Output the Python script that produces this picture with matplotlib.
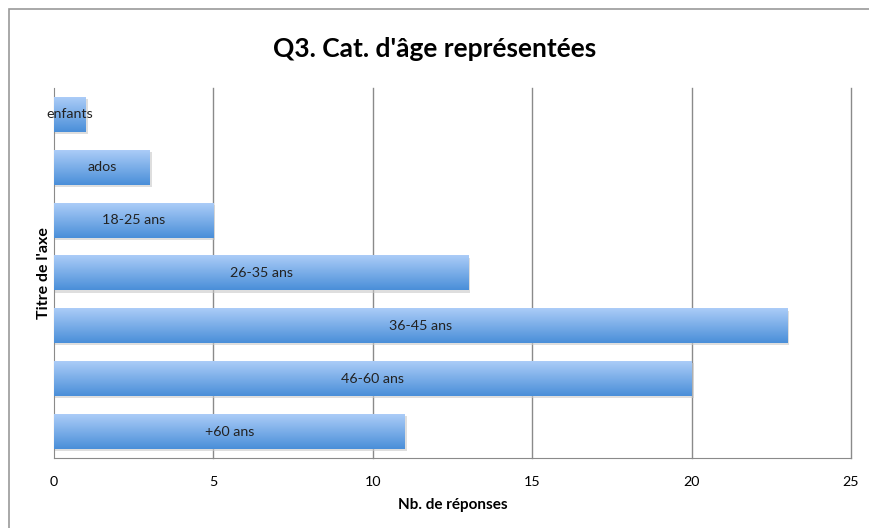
import numpy as np
import matplotlib
matplotlib.use('Agg')
import matplotlib.pyplot as plt
from matplotlib.patches import Rectangle

# ── data ──
categories = ['enfants', 'ados', '18-25 ans', '26-35 ans', '36-45 ans', '46-60 ans', '+60 ans']
responses = [1, 3, 5, 13, 23, 20, 11]
x_ticks = [0, 5, 10, 15, 20, 25]

plt.rcParams['font.family'] = ['Lato', 'DejaVu Sans']

fig = plt.figure(figsize=(8.69, 5.28), dpi=100)
ax = fig.add_axes([0.0621, 0.1326, 0.9172, 0.7007])

# outer chart frame (cut off on right / bottom)
fig.patches.append(Rectangle((9 / 869, -0.1), 1.2, 1 - 9 / 528 + 0.1,
                             transform=fig.transFigure, fill=False,
                             edgecolor='#9a9a9a', linewidth=1.2))

# vertical gradient used for each bar (light top -> darker bottom)
top_c = np.array([0.67, 0.80, 0.97])
bot_c = np.array([0.29, 0.56, 0.85])
t = np.linspace(0, 1, 64)[:, None]
grad = (top_c * (1 - t) + bot_c * t)[:, None, :]

n = len(categories)
bar_h = 0.66
for i, (cat, val) in enumerate(zip(categories, responses)):
    y = i
    # soft shadow
    ax.add_patch(Rectangle((0, y - bar_h / 2 + 0.04), val + 0.06, bar_h,
                           facecolor='#c8c8c8', edgecolor='none', alpha=0.6, zorder=2))
    ax.imshow(grad, extent=(0, val, y + bar_h / 2, y - bar_h / 2),
              aspect='auto', zorder=3, interpolation='bilinear')
    ax.text(val / 2, y, cat, ha='center', va='center', fontsize=10.3,
            color='#222222', zorder=4)

ax.set_xlim(0, 25)
ax.set_ylim(n - 0.5, -0.5)
ax.set_xticks(x_ticks)
ax.set_xticklabels([str(v) for v in x_ticks], fontsize=10.3)
ax.set_yticks([])
ax.tick_params(axis='x', length=0, pad=13)
for v in x_ticks[1:]:
    ax.axvline(v, color='#8a8a8a', linewidth=1, zorder=1, clip_on=False)
for s in ['top', 'right']:
    ax.spines[s].set_visible(False)
ax.spines['left'].set_color('#8a8a8a')
ax.spines['bottom'].set_color('#8a8a8a')

ax.set_xlabel('Nb. de réponses', fontsize=11, fontweight='bold', labelpad=7)
ax.set_ylabel("Titre de l'axe", fontsize=11.5, fontweight='bold', labelpad=2)
fig.suptitle("Q3. Cat. d'âge représentées", fontsize=19, fontweight='bold',
             y=0.93)

fig.savefig('out.png', dpi=100)
